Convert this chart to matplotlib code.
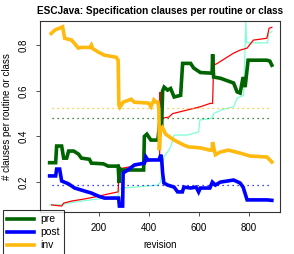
import matplotlib
matplotlib.use("Agg")
import matplotlib.pyplot as plt

# ---- data ----
rev_pre = [4, 28, 32, 52, 60, 72, 80, 100, 119, 131, 163, 171, 219, 238, 278, 282, 284, 290, 380, 383, 393, 409, 437, 443, 448, 452, 456, 462, 476, 488, 502, 528, 536, 568, 580, 607, 654, 656, 660, 687, 740, 754, 766, 778, 786, 798, 873, 885, 893]
val_pre = [0.285, 0.285, 0.358, 0.358, 0.305, 0.305, 0.336, 0.336, 0.323, 0.305, 0.30, 0.283, 0.28, 0.27, 0.27, 0.196, 0.26, 0.253, 0.253, 0.40, 0.41, 0.384, 0.384, 0.45, 0.48, 0.44, 0.60, 0.616, 0.603, 0.61, 0.573, 0.58, 0.72, 0.72, 0.70, 0.68, 0.677, 0.760, 0.66, 0.655, 0.634, 0.595, 0.59, 0.66, 0.616, 0.734, 0.734, 0.730, 0.712]

rev_post = [4, 28, 32, 44, 52, 80, 104, 143, 171, 198, 223, 270, 280, 283, 296, 298, 317, 343, 383, 389, 397, 441, 449, 452, 456, 461, 476, 502, 516, 535, 541, 568, 590, 600, 607, 645, 655, 667, 687, 740, 766, 778, 794, 873, 893]
val_post = [0.227, 0.227, 0.257, 0.257, 0.205, 0.192, 0.174, 0.161, 0.152, 0.139, 0.13, 0.13, 0.13, 0.095, 0.095, 0.24, 0.253, 0.275, 0.283, 0.31, 0.297, 0.297, 0.32, 0.30, 0.24, 0.196, 0.187, 0.178, 0.157, 0.157, 0.178, 0.174, 0.178, 0.157, 0.174, 0.174, 0.20, 0.187, 0.20, 0.209, 0.196, 0.178, 0.122, 0.122, 0.12]

rev_inv = [10, 25, 56, 64, 92, 119, 131, 165, 171, 176, 198, 223, 270, 278, 281, 285, 298, 330, 343, 400, 409, 421, 430, 437, 441, 443, 447, 455, 468, 502, 541, 560, 607, 645, 654, 656, 667, 687, 719, 766, 806, 873, 893]
val_inv = [0.851, 0.866, 0.88, 0.83, 0.822, 0.787, 0.79, 0.79, 0.80, 0.785, 0.77, 0.756, 0.747, 0.734, 0.537, 0.528, 0.55, 0.563, 0.55, 0.546, 0.53, 0.56, 0.55, 0.55, 0.52, 0.34, 0.43, 0.44, 0.41, 0.384, 0.362, 0.354, 0.35, 0.34, 0.34, 0.375, 0.32, 0.332, 0.34, 0.327, 0.314, 0.31, 0.288]

rev_red = [12, 52, 60, 92, 143, 203, 238, 278, 282, 290, 343, 377, 397, 437, 444, 446, 448, 452, 456, 481, 496, 555, 607, 647, 656, 660, 675, 695, 740, 766, 794, 819, 873, 882, 893]
val_red = [0.10, 0.095, 0.108, 0.117, 0.126, 0.139, 0.148, 0.157, 0.257, 0.26, 0.27, 0.279, 0.292, 0.30, 0.30, 0.594, 0.40, 0.43, 0.48, 0.485, 0.50, 0.516, 0.53, 0.545, 0.545, 0.712, 0.72, 0.734, 0.765, 0.778, 0.787, 0.822, 0.83, 0.874, 0.878]

rev_aqua = [4, 44, 80, 131, 198, 278, 283, 290, 343, 437, 448, 461, 476, 488, 502, 555, 600, 605, 655, 660, 690, 740, 754, 780, 789, 792, 876, 880, 893]
val_aqua = [0.10, 0.10, 0.108, 0.117, 0.126, 0.139, 0.165, 0.174, 0.178, 0.187, 0.20, 0.31, 0.332, 0.354, 0.406, 0.406, 0.42, 0.472, 0.48, 0.50, 0.516, 0.53, 0.568, 0.58, 0.90, 0.81, 0.81, 0.85, 0.86]

mean_pre, mean_post, mean_inv = 0.48, 0.188, 0.523
mean_span = [12, 885]

labels = ["pre", "post", "inv"]
c_pre, c_post, c_inv = "#006400", "#0000FF", "#FFB90F"
c_red, c_aqua = "#FF0000", "#7FFFD4"

plt.rcParams['font.family'] = ['Liberation Sans', 'DejaVu Sans']
fig = plt.figure(figsize=(2.94, 2.54), dpi=100)
ax = fig.add_axes([40/294, 1-212/254, 240/294, 191.3/254])

ax.plot(rev_aqua, val_aqua, color=c_aqua, lw=0.9)
ax.plot(rev_red, val_red, color=c_red, lw=0.9)
ax.plot(mean_span, [mean_pre]*2, color=c_pre, lw=0.9, ls=(0, (1, 3)))
ax.plot(mean_span, [mean_post]*2, color=c_post, lw=0.9, ls=(0, (1, 3)))
ax.plot(mean_span, [mean_inv]*2, color=c_inv, lw=0.9, ls=(0, (1, 3)))
l1, = ax.plot(rev_pre, val_pre, color=c_pre, lw=2.6, solid_joinstyle='miter')
l2, = ax.plot(rev_post, val_post, color=c_post, lw=2.6, solid_joinstyle='miter')
l3, = ax.plot(rev_inv, val_inv, color=c_inv, lw=2.6, solid_joinstyle='miter')

ax.set_xlim(-34.6, 925.6)
ax.set_ylim(0.069, 0.907)
ax.set_xticks([200, 400, 600, 800])
ax.set_yticks([0.2, 0.4, 0.6, 0.8])
ax.set_yticklabels(["0.2", "0.4", "0.6", "0.8"], rotation=90, va='center')
ax.tick_params(labelsize=7, length=3, width=0.6, pad=5, colors='#333333', labelcolor='black')
for s in ax.spines.values():
    s.set_linewidth(0.8)
    s.set_color('#333333')

ax.set_title("ESCJava: Specification clauses per routine or class", fontsize=7.2, fontweight='bold', pad=5)
ax.set_xlabel("revision", fontsize=7, labelpad=5)
ax.set_ylabel("# clauses per routine or class", fontsize=7, labelpad=5)

leg = fig.legend([l1, l2, l3], labels, loc='upper left', bbox_to_anchor=(3/294, 1-210/254),
                 fontsize=7.5, frameon=True, fancybox=False, edgecolor='black',
                 handlelength=2.6, handletextpad=0.6, labelspacing=0.3, borderpad=0.4,
                 borderaxespad=0)
leg.get_frame().set_linewidth(0.8)

fig.savefig("out.png", dpi=100)
